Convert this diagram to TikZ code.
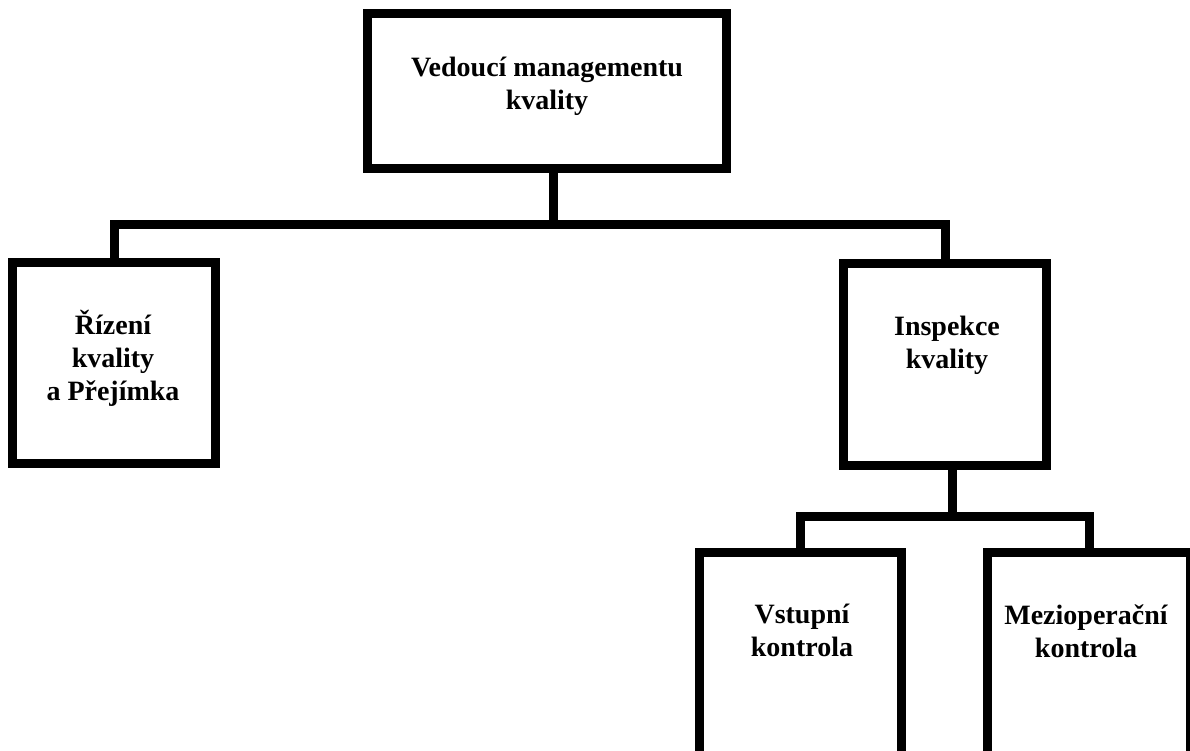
\documentclass[tikz,border=0pt]{standalone}
\usepackage{fontspec}
\setmainfont{Liberation Serif}
\begin{document}
\begin{tikzpicture}[x=1pt,y=-1pt,
  box/.style={draw=black, line width=9pt, fill=white, rectangle, inner sep=0pt, line join=miter},
  lbl/.style={font=\bfseries\fontsize{28}{33}\selectfont, align=center, inner sep=0pt},
  conn/.style={draw=black, line width=9pt, line join=miter}]
\useasboundingbox (0,0) rectangle (1190,751);
\fill[white] (0,0) rectangle (1190,751);
\begin{scope}
\clip (0,0) rectangle (1190,751);
\node[box, minimum width=359pt, minimum height=155pt] (top) at (547,91) {};
\node[box, minimum width=203pt, minimum height=201.5pt] (left) at (114,362.75) {};
\node[box, minimum width=203pt, minimum height=201.5pt] (insp) at (945,364.25) {};
\node[box, minimum width=202.5pt, minimum height=215pt] (vst) at (800.25,660) {};
\node[box, minimum width=203pt, minimum height=215pt] (mezi) at (1089,660) {};
\coordinate (j1) at (553.5,225);
\coordinate (j2) at (952.5,516.5);
\draw[conn] (top.south -| j1) -- (j1);
\draw[conn] (left.north) |- (j1) -| (insp.north);
\draw[conn] (insp.south -| j2) -- (j2);
\draw[conn] (vst.north) |- (j2) -| (mezi.north);
\node[lbl] (topt) at (547,86) {Vedoucí managementu\\kvality};
\node[lbl] (leftt) at (113,358) {Řízení\\kvality\\a Přejímka};
\node[lbl] (inspt) at (947,345) {Inspekce\\kvality};
\node[lbl] (vstt) at (802,630) {Vstupní\\kontrola};
\node[lbl] (mezit) at (1086,631) {Mezioperační\\kontrola};
\end{scope}
\end{tikzpicture}
\end{document}
